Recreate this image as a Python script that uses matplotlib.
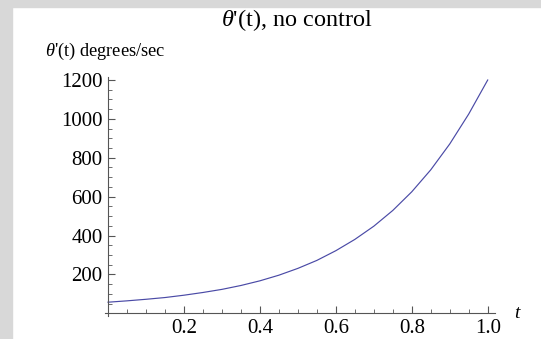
import numpy as np
import matplotlib
matplotlib.use('Agg')
import matplotlib.pyplot as plt
from matplotlib.patches import Rectangle
from matplotlib.ticker import MultipleLocator

plt.rcParams['font.family'] = ['Liberation Serif', 'DejaVu Serif']
plt.rcParams['mathtext.fontset'] = 'custom'
plt.rcParams['mathtext.rm'] = 'Liberation Serif'
plt.rcParams['mathtext.it'] = 'Liberation Serif:italic'

# values
t = [0.0, 0.05, 0.1, 0.15, 0.2, 0.25, 0.3, 0.35, 0.4, 0.45, 0.5,
     0.55, 0.6, 0.65, 0.7, 0.75, 0.8, 0.85, 0.9, 0.95, 1.0]
theta_dot = [57, 64, 72, 81, 93, 107, 123, 143, 167, 196, 231,
             272, 322, 380, 448, 529, 625, 738, 871, 1025, 1200]
x_ticks = [0.2, 0.4, 0.6, 0.8, 1.0]
x_tick_labels = ['0.2', '0.4', '0.6', '0.8', '1.0']
y_ticks = [200, 400, 600, 800, 1000, 1200]

W, H = 541, 339
fig = plt.figure(figsize=(W / 100, H / 100), dpi=100)
fig.patch.set_facecolor('white')

# grey frame on the left and top
grey = '#d8d8d8'
fig.patches.append(Rectangle((0, 0), 12 / W, 1, transform=fig.transFigure,
                             color=grey, zorder=0))
fig.patches.append(Rectangle((0, 1 - 7 / H), 1, 7 / H, transform=fig.transFigure,
                             color=grey, zorder=0))

ax = fig.add_axes([105 / W, (H - 316.2) / H, 390.3 / W, 239.3 / H])
ax.set_facecolor('none')
ax.plot(t, theta_dot, color='#4a4aa6', lw=0.85)

ax.set_xlim(-0.008, 1.02)
ax.set_ylim(-15, 1216)

for side in ['top', 'right']:
    ax.spines[side].set_visible(False)
ax.spines['left'].set_position(('data', 0))
ax.spines['bottom'].set_position(('data', 0))
for side in ['left', 'bottom']:
    ax.spines[side].set_color('#555555')
    ax.spines[side].set_linewidth(0.8)

ax.set_xticks(x_ticks)
ax.set_xticklabels(x_tick_labels)
ax.set_yticks(y_ticks)
ax.xaxis.set_minor_locator(MultipleLocator(0.05))
ax.yaxis.set_minor_locator(MultipleLocator(50))
ax.tick_params(which='major', direction='in', length=5, width=0.8,
               color='#555555', labelsize=15, pad=4)
ax.tick_params(which='minor', direction='in', length=3, width=0.6,
               color='#555555')

fig.text(297 / W, 1 - 20 / H, r"$\theta$'(t), no control", ha='center',
         va='center', fontsize=17.5)
fig.text(45 / W, 1 - 51 / H, r"$\theta$'(t) degrees/sec", ha='left',
         va='center', fontsize=13.2)
fig.text(517 / W, 1 - 313 / H, 't', style='italic', ha='center',
         va='center', fontsize=14)

fig.savefig('out.png', dpi=100)
